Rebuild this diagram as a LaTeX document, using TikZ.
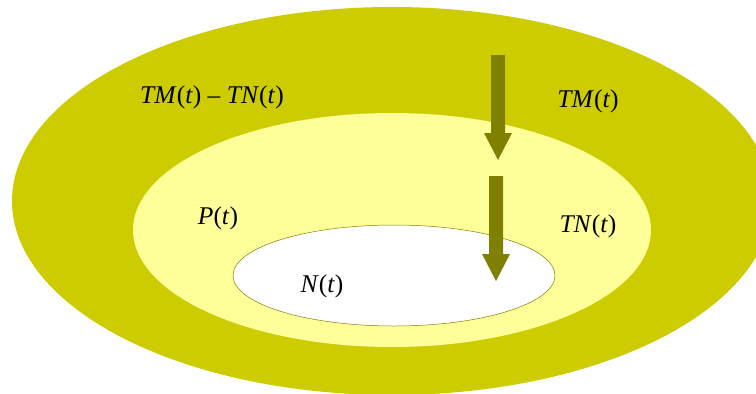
\documentclass[tikz,border=0pt]{standalone}
\usepackage{fontspec}
\setmainfont{Liberation Serif}
\usetikzlibrary{positioning}
\definecolor{darkband}{HTML}{CCCC00}
\definecolor{lightband}{HTML}{FFFF99}
\definecolor{flowcol}{HTML}{808000}
\tikzset{
  setlabel/.style={font=\fontsize{25.5}{30}\selectfont, inner sep=0pt},
  flowarrow/.style={fill=flowcol}
}
\newcommand{\iv}[1]{\textit{#1}}
\begin{document}
\begin{tikzpicture}[x=1pt, y=-1pt]
  \useasboundingbox (0,0) rectangle (756,394);
  \clip (0,0) rectangle (756,394);
  % nested sets
  \fill[darkband] (392,201) ellipse [x radius=380, y radius=194];
  \fill[lightband] (392,230) ellipse [x radius=259, y radius=117];
  \filldraw[fill=white, draw=flowcol, line width=0.5pt] (394,275.5) ellipse [x radius=161, y radius=50.5];
  % flows
  \fill[flowarrow] (491,55) -- (505,55) -- (505,133) -- (512,133) -- (498,160)
    -- (484,133) -- (491,133) -- cycle;
  \fill[flowarrow] (489,176) -- (503,176) -- (503,254) -- (510,254) -- (496,281)
    -- (482,254) -- (489,254) -- cycle;
  % labels
  \node[setlabel] (tmtn) at (212,97) {\iv{TM}(\iv{t}) – \iv{TN}(\iv{t})};
  \node[setlabel] (tm) at (588,101) {\iv{TM}(\iv{t})};
  \node[setlabel] (p) at (218,218) {\iv{P}(\iv{t})};
  \node[setlabel] (tn) at (588,226) {\iv{TN}(\iv{t})};
  \node[setlabel] (n) at (322,286) {\iv{N}(\iv{t})};
\end{tikzpicture}
\end{document}
